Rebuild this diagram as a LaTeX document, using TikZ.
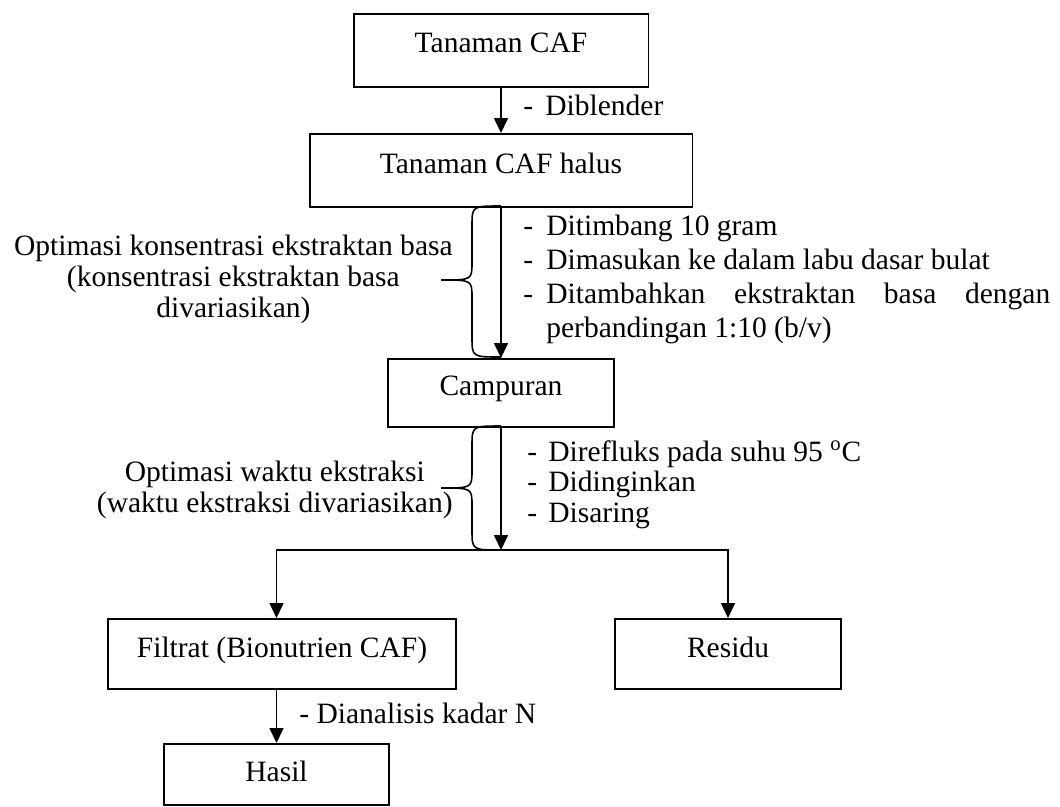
\documentclass[tikz,border=0pt]{standalone}
\usepackage{fontspec}
\setmainfont{Liberation Serif}
\usetikzlibrary{arrows.meta,positioning,calc}

\begin{document}
\begin{tikzpicture}[
    x=0.02cm, y=-0.02cm,
    box/.style={
        rectangle,
        draw=black,
        line width=1.1pt,
        inner sep=0pt,
        anchor=north,
        font=\fontsize{16.8pt}{19.35pt}\selectfont
    },
    arr/.style={
        -{Triangle[length=0.3cm,width=0.28cm]},
        line width=0.9pt
    },
    kurung/.style={line width=0.9pt},
    ket/.style={
        inner sep=0pt,
        anchor=base west,
        align=left,
        font=\fontsize{16.8pt}{19.35pt}\selectfont
    },
    opt/.style={
        inner sep=0pt,
        anchor=east,
        align=center,
        font=\fontsize{16.8pt}{17.6pt}\selectfont
    }
]
\useasboundingbox (0,0) rectangle (1060,806);

% --- kotak-kotak ---
\node[box, minimum width=5.9cm, text height=0.78cm, text depth=0.68cm] (caf) at (501,13) {Tanaman CAF};
\node[box, minimum width=7.66cm, text height=0.8cm, text depth=0.66cm] (halus) at (501,133) {Tanaman CAF halus};
\node[box, minimum width=4.52cm, text height=0.74cm, text depth=0.62cm] (campur) at (501,358) {Campuran};
\node[box, minimum width=6.96cm, text height=0.78cm, text depth=0.62cm] (filtrat) at (282,618) {Filtrat (Bionutrien CAF)};
\node[box, minimum width=4.52cm, text height=0.78cm, text depth=0.62cm] (residu) at (728,618) {Residu};
\node[box, minimum width=4.5cm, text height=0.76cm, text depth=0.46cm] (hasil) at (276.5,743) {Hasil};

% --- panah ---
\draw[arr] (caf) -- (halus);
\draw[arr] (halus) -- (campur);
\coordinate (pisah) at (501,550);
\draw[arr] (campur) -- (pisah);
\draw[arr] (pisah) -| (hasil.north |- filtrat.north);
\draw[arr] (pisah) -| (residu.north);
\draw[arr] (hasil.north |- filtrat.south) -- (hasil);

% --- keterangan langkah (base = baris terakhir) ---
\node[ket] (blender) at (523,115) {\makebox[0.44cm][l]{-}Diblender};
\node[ket] (langkah1) at (523,337) {\makebox[0.46cm][l]{-}Ditimbang 10 gram\\
    \makebox[0.46cm][l]{-}Dimasukan ke dalam labu dasar bulat\\
    \makebox[0.46cm][l]{-}\makebox[10.08cm][s]{Ditambahkan ekstraktan basa dengan}\\
    \makebox[0.46cm]{}perbandingan 1:10 (b/v)};
\node[ket, font=\fontsize{16.8pt}{17.1pt}\selectfont] (langkah2) at (527,522) {\makebox[0.42cm][l]{-}Direfluks pada suhu 95 \textsuperscript{o}C\\
    \makebox[0.42cm][l]{-}Didinginkan\\
    \makebox[0.42cm][l]{-}Disaring};
\node[ket] (analisis) at (299,723) {- Dianalisis kadar N};

% --- kurung kurawal dan optimasi ---
\draw[kurung] (501,206) .. controls (472,206) .. (472,226) -- (472,262)
    .. controls (472,280) .. (441,280) .. controls (472,280) .. (472,298)
    -- (472,337) .. controls (472,357) .. (501,357);
\node[opt] (opt1) at (453,279) {Optimasi konsentrasi ekstraktan basa\\(konsentrasi ekstraktan basa\\divariasikan)};

\draw[kurung] (501,426) .. controls (472,426) .. (472,446) -- (472,470)
    .. controls (472,488) .. (441,488) .. controls (472,488) .. (472,506)
    -- (472,530) .. controls (472,550) .. (501,550);
\node[opt] (opt2) at (453,490) {Optimasi waktu ekstraksi\\(waktu ekstraksi divariasikan)};
\end{tikzpicture}
\end{document}
